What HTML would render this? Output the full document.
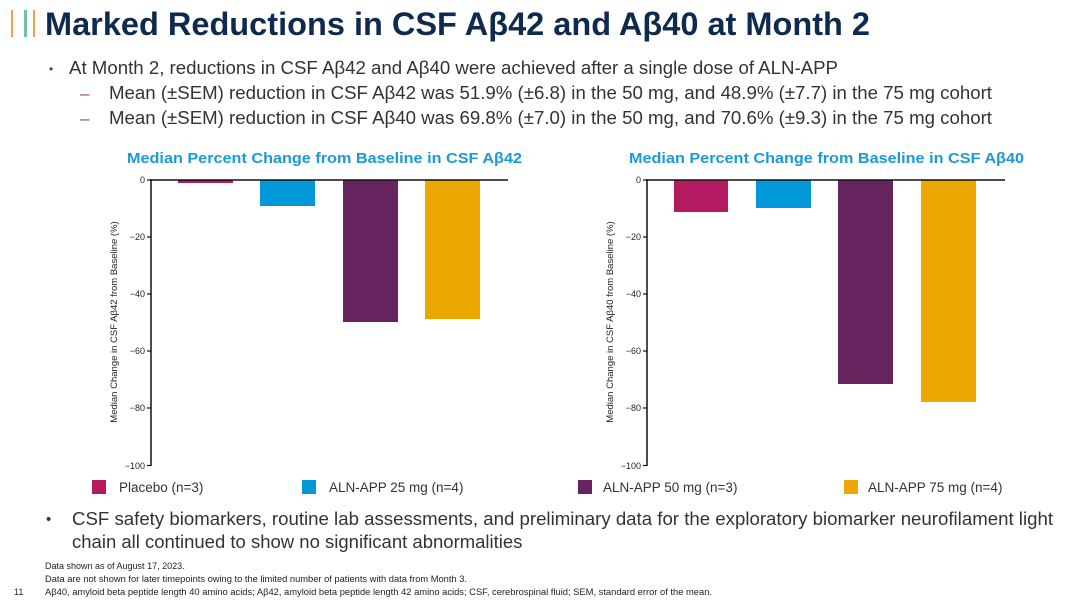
<!DOCTYPE html>
<html><head><meta charset="utf-8"><style>
body{margin:0;width:1080px;height:600px;background:#fff;overflow:hidden;font-family:"Liberation Sans",Arial,sans-serif}
</style></head><body>
<svg width="1080" height="600" xmlns="http://www.w3.org/2000/svg" font-family="Liberation Sans, Arial, sans-serif">
<rect x="11" y="10" width="2" height="27" fill="#f5a340"/>
<rect x="24" y="10" width="3" height="27" fill="#6fc4a0"/>
<rect x="33" y="10" width="2" height="27" fill="#f5a340"/>
<text x="45" y="35" font-size="32" font-weight="bold" fill="#0e2a4f" textLength="825" lengthAdjust="spacingAndGlyphs">Marked Reductions in CSF Aβ42 and Aβ40 at Month 2</text>
<text x="49" y="73" font-size="12" fill="#7a2a60">•</text>
<text x="69" y="74" font-size="18" fill="#333" textLength="769" lengthAdjust="spacingAndGlyphs">At Month 2, reductions in CSF Aβ42 and Aβ40 were achieved after a single dose of ALN-APP</text>
<text x="80" y="99" font-size="17" fill="#a0407a">–</text>
<text x="109" y="99" font-size="18" fill="#333" textLength="883" lengthAdjust="spacingAndGlyphs">Mean (±SEM) reduction in CSF Aβ42 was 51.9% (±6.8) in the 50 mg, and 48.9% (±7.7) in the 75 mg cohort</text>
<text x="80" y="124" font-size="17" fill="#a0407a">–</text>
<text x="109" y="124" font-size="18" fill="#333" textLength="883" lengthAdjust="spacingAndGlyphs">Mean (±SEM) reduction in CSF Aβ40 was 69.8% (±7.0) in the 50 mg, and 70.6% (±9.3) in the 75 mg cohort</text>

<text x="127" y="163" font-size="14.5" font-weight="bold" fill="#1a9ad6" textLength="395" lengthAdjust="spacingAndGlyphs">Median Percent Change from Baseline in CSF Aβ42</text>
<text x="629" y="163" font-size="14.5" font-weight="bold" fill="#1a9ad6" textLength="395" lengthAdjust="spacingAndGlyphs">Median Percent Change from Baseline in CSF Aβ40</text>

<g font-size="9" fill="#222" text-anchor="end">
<rect x="178" y="180" width="55" height="3" fill="#b5195f"/>
<rect x="260" y="180" width="55" height="26" fill="#0098d8"/>
<rect x="343" y="180" width="55" height="142" fill="#66245e"/>
<rect x="425" y="180" width="55" height="139" fill="#eca800"/>
<line x1="151" y1="180" x2="508" y2="180" stroke="#111" stroke-width="1.5"/>
<line x1="151" y1="179" x2="151" y2="466" stroke="#111" stroke-width="1.5"/>
<g stroke="#111" stroke-width="1.2">
<line x1="147" y1="180" x2="151" y2="180"/><line x1="147" y1="237" x2="151" y2="237"/><line x1="147" y1="294" x2="151" y2="294"/><line x1="147" y1="351" x2="151" y2="351"/><line x1="147" y1="408" x2="151" y2="408"/><line x1="147" y1="465.5" x2="151" y2="465.5"/>
</g>
<text x="145" y="183">0</text><text x="145" y="240">−20</text><text x="145" y="297">−40</text><text x="145" y="354">−60</text><text x="145" y="411">−80</text><text x="145" y="469">−100</text>
<text transform="translate(117,322) rotate(-90)" text-anchor="middle" font-size="9.5">Median Change in CSF Aβ42 from Baseline (%)</text>
<rect x="674" y="180" width="54" height="32" fill="#b5195f"/>
<rect x="756" y="180" width="55" height="28" fill="#0098d8"/>
<rect x="838" y="180" width="55" height="204" fill="#66245e"/>
<rect x="921" y="180" width="55" height="222" fill="#eca800"/>
<line x1="647" y1="180" x2="1005" y2="180" stroke="#111" stroke-width="1.5"/>
<line x1="647" y1="179" x2="647" y2="466" stroke="#111" stroke-width="1.5"/>
<g stroke="#111" stroke-width="1.2">
<line x1="643" y1="180" x2="647" y2="180"/><line x1="643" y1="237" x2="647" y2="237"/><line x1="643" y1="294" x2="647" y2="294"/><line x1="643" y1="351" x2="647" y2="351"/><line x1="643" y1="408" x2="647" y2="408"/><line x1="643" y1="465.5" x2="647" y2="465.5"/>
</g>
<text x="641" y="183">0</text><text x="641" y="240">−20</text><text x="641" y="297">−40</text><text x="641" y="354">−60</text><text x="641" y="411">−80</text><text x="641" y="469">−100</text>
<text transform="translate(613,322) rotate(-90)" text-anchor="middle" font-size="9.5">Median Change in CSF Aβ40 from Baseline (%)</text>
</g>

<g font-size="13.5" fill="#333">
<rect x="92" y="480" width="14" height="14" fill="#b5195f"/><text x="119" y="492">Placebo (n=3)</text>
<rect x="302" y="480" width="14" height="14" fill="#0098d8"/><text x="329" y="492">ALN-APP 25 mg (n=4)</text>
<rect x="578" y="480" width="14" height="14" fill="#66245e"/><text x="603" y="492">ALN-APP 50 mg (n=3)</text>
<rect x="844" y="480" width="14" height="14" fill="#eca800"/><text x="868" y="492">ALN-APP 75 mg (n=4)</text>
</g>

<text x="46" y="524" font-size="15" fill="#333">•</text>
<text x="72" y="525" font-size="18.5" fill="#333" textLength="981" lengthAdjust="spacingAndGlyphs">CSF safety biomarkers, routine lab assessments, and preliminary data for the exploratory biomarker neurofilament light</text>
<text x="72" y="548" font-size="18.5" fill="#333">chain all continued to show no significant abnormalities</text>

<g font-size="9" fill="#222">
<text x="45" y="569">Data shown as of August 17, 2023.</text>
<text x="45" y="582" textLength="422" lengthAdjust="spacingAndGlyphs">Data are not shown for later timepoints owing to the limited number of patients with data from Month 3.</text>
<text x="14" y="595">11</text>
<text x="45" y="595" textLength="667" lengthAdjust="spacingAndGlyphs">Aβ40, amyloid beta peptide length 40 amino acids; Aβ42, amyloid beta peptide length 42 amino acids; CSF, cerebrospinal fluid; SEM, standard error of the mean.</text>
</g>
</svg>
</body></html>
